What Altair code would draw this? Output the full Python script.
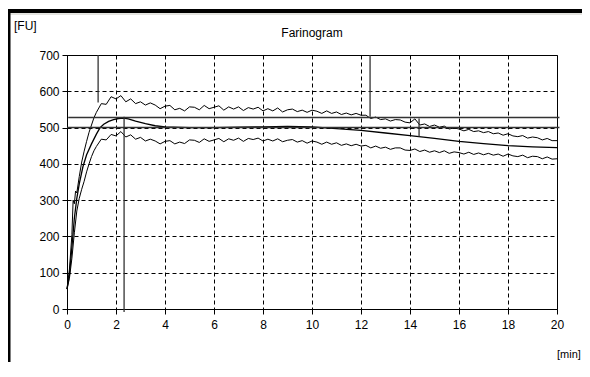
import altair as alt
import pandas as pd

# ---------------- data ----------------
x_ticks = [0, 2, 4, 6, 8, 10, 12, 14, 16, 18, 20]
y_ticks = [0, 100, 200, 300, 400, 500, 600, 700]

# upper band (start-up part)
upper_ramp_t = [0.0, 0.1, 0.2, 0.25, 0.3, 0.35, 0.4, 0.5, 0.6, 0.7, 0.8, 0.9, 1.0, 1.1]
upper_ramp_fu = [55, 110, 205, 300, 290, 325, 320, 365, 405, 435, 462, 487, 507, 527]

# lower band (start-up part)
lower_ramp_t = [0.0, 0.1, 0.2, 0.3, 0.4, 0.5, 0.6, 0.7, 0.8, 0.9, 1.0, 1.1]
lower_ramp_fu = [55, 85, 140, 210, 270, 305, 330, 352, 378, 400, 420, 436]

# noisy parts, sampled every 0.2 min from 1.2 to 20.0
band_t = [round(1.2 + 0.2 * i, 1) for i in range(95)]
upper_fu = [
    542, 566, 564, 585, 579, 588, 571, 579, 566, 571,
    562, 568, 562, 552, 559, 561, 549, 553, 546, 557,
    556, 549, 561, 552, 556, 560, 548, 557, 551, 557,
    547, 555, 551, 556, 546, 552, 546, 554, 543, 549,
    551, 544, 548, 542, 548, 545, 539, 546, 539, 543,
    536, 540, 535, 539, 534, 534, 525, 529, 522, 524,
    518, 522, 521, 515, 513, 524, 507, 510, 503, 507,
    501, 504, 496, 499, 496, 491, 495, 489, 491, 486,
    489, 483, 485, 479, 483, 477, 475, 478, 471, 474,
    472, 466, 470, 464, 464,
]
lower_fu = [
    448, 468, 466, 481, 477, 489, 474, 480, 468, 473,
    463, 468, 463, 455, 462, 464, 455, 460, 456, 466,
    465, 459, 469, 462, 466, 470, 461, 469, 465, 471,
    462, 470, 467, 471, 463, 468, 463, 469, 461, 465,
    467, 460, 464, 457, 463, 460, 454, 460, 454, 458,
    451, 455, 450, 454, 449, 451, 444, 449, 443, 446,
    440, 444, 444, 438, 437, 441, 434, 438, 432, 436,
    431, 436, 429, 433, 431, 427, 432, 426, 430, 425,
    429, 424, 427, 421, 427, 422, 420, 424, 417, 421,
    420, 414, 419, 413, 414,
]

# smooth middle curve
mid_t = [0, 0.1, 0.2, 0.3, 0.4, 0.5, 0.65, 0.8, 1.0, 1.2, 1.35, 1.5, 1.7, 1.9,
         2.1, 2.3, 2.5, 2.8, 3.2, 3.6, 4.0, 5, 6, 7, 8, 9, 10, 11, 12, 13, 14,
         15, 16, 17, 18, 19, 20]
mid_fu = [55, 95, 170, 250, 305, 345, 392, 425, 455, 482, 500, 509, 517, 522,
          525, 526, 524, 518, 511, 505, 502, 500, 500, 501, 502, 503, 502, 497,
          492, 485, 478, 470, 462, 456, 450, 447, 445]

# reference lines
h_y = [500, 528]
h_x1 = [0, 0.05]
h_x2 = [20.1, 20.1]
v_x = [1.27, 2.33, 12.37, 14.37]
v_y1 = [700, 530, 700, 525]
v_y2 = [569, -8, 530, 475]

# ---------------- tables ----------------
band_df = pd.concat([
    pd.DataFrame({"t": upper_ramp_t + band_t, "fu": upper_ramp_fu + upper_fu, "curve": "upper"}),
    pd.DataFrame({"t": lower_ramp_t + band_t, "fu": lower_ramp_fu + lower_fu, "curve": "lower"}),
])
mid_df = pd.DataFrame({"t": mid_t, "fu": mid_fu})
h_df = pd.DataFrame({"y": h_y, "x1": h_x1, "x2": h_x2})
v_df = pd.DataFrame({"x": v_x, "y1": v_y1, "y2": v_y2})
one = pd.DataFrame({"a": [0]})

FONT = "Liberation Sans"
xs = alt.Scale(domain=[0, 20], nice=False)
ys = alt.Scale(domain=[0, 700], nice=False)

x_axis = alt.Axis(values=x_ticks, title=None, grid=True, gridDash=[4, 3],
                  gridColor="black", gridOpacity=1, domain=False,
                  tickColor="black", tickSize=5, labelPadding=5,
                  labelOverlap=False, labelFlush=False,
                  labelFont=FONT, labelFontSize=12, labelColor="black")
y_axis = alt.Axis(values=y_ticks, title=None, grid=True, gridDash=[4, 3],
                  gridColor="black", gridOpacity=1, domain=False,
                  tickColor="black", tickSize=5, labelPadding=3,
                  labelOverlap=False, labelFlush=False,
                  labelFont=FONT, labelFontSize=12, labelColor="black")

bands = alt.Chart(band_df).mark_line(color="black", strokeWidth=1).encode(
    x=alt.X("t:Q", scale=xs, axis=x_axis),
    y=alt.Y("fu:Q", scale=ys, axis=y_axis),
    detail="curve:N",
)
mid = alt.Chart(mid_df).mark_line(color="black", strokeWidth=1.3).encode(
    x=alt.X("t:Q", scale=xs, axis=x_axis), y=alt.Y("fu:Q", scale=ys, axis=y_axis)
)
hrules = alt.Chart(h_df).mark_rule(color="#333333", strokeWidth=1.5).encode(
    x=alt.X("x1:Q", scale=xs, axis=x_axis), x2="x2:Q",
    y=alt.Y("y:Q", scale=ys, axis=y_axis)
)
vrules = alt.Chart(v_df).mark_rule(color="#333333", strokeWidth=1.3).encode(
    x=alt.X("x:Q", scale=xs, axis=x_axis),
    y=alt.Y("y1:Q", scale=ys, axis=y_axis), y2="y2:Q"
)

def label(txt, x, y, align="left", size=12):
    return alt.Chart(one).mark_text(text=txt, font=FONT, fontSize=size,
                                    color="black", align=align,
                                    baseline="middle").encode(
        x=alt.value(x), y=alt.value(y))

fu_lbl = label("[FU]", -53, -29)
title_lbl = label("Farinogram", 245, -22, align="center")
min_lbl = label("[min]", 490, 300, size=11)

top_bar = alt.Chart(one).mark_rule(color="black", strokeWidth=4).encode(
    x=alt.value(-59), x2=alt.value(515), y=alt.value(-44))
top_grey = alt.Chart(one).mark_rule(color="#c8c8c0", strokeWidth=1).encode(
    x=alt.value(-59), x2=alt.value(515), y=alt.value(-41))
left_bar = alt.Chart(one).mark_rule(color="black", strokeWidth=3).encode(
    x=alt.value(-58), y=alt.value(-46), y2=alt.value(310))

chart = alt.layer(
    bands, mid, hrules, vrules, fu_lbl, title_lbl, min_lbl, top_bar, top_grey, left_bar
).properties(
    width=490, height=254,
    padding={"left": 59, "top": 47, "right": 25, "bottom": 53},
    autosize=alt.AutoSizeParams(type="none"),
).configure(background="white").configure_view(stroke="black", strokeWidth=1)

chart.save("out.html", embed_options={"renderer": "svg", "actions": False})
